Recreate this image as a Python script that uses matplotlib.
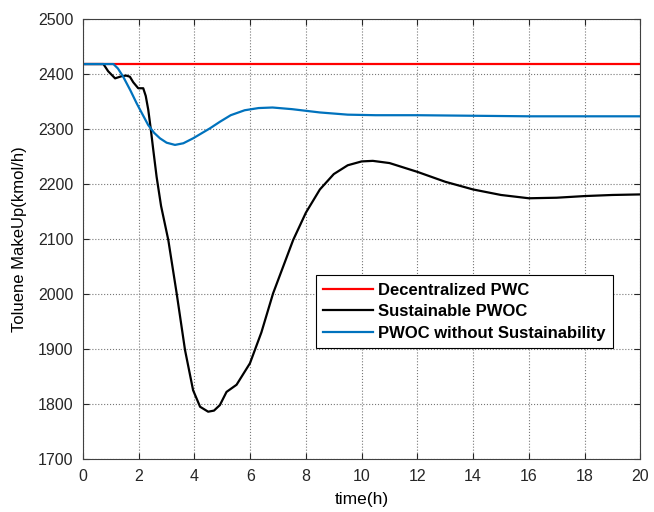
import matplotlib
matplotlib.use('Agg')
import matplotlib.pyplot as plt

plt.rcParams['font.family'] = ['Liberation Sans', 'DejaVu Sans']

# Decentralized PWC (flat)
t_dec = [0, 20]
y_dec = [2418, 2418]

# Sustainable PWOC
t_sus = [0, 0.73, 0.9, 1.15, 1.39, 1.55, 1.68, 1.8, 1.98, 2.16, 2.25, 2.34, 2.43, 2.52,
         2.64, 2.8, 3.06, 3.36, 3.66, 3.95, 4.2, 4.49, 4.7, 4.91, 5.15, 5.51, 5.99,
         6.4, 6.82, 7.54, 8.0, 8.5, 9.0, 9.5, 10.0, 10.4, 11.0, 12.0, 13.0, 14.0,
         15.0, 16.0, 17.0, 18.0, 19.0, 20.0]
y_sus = [2418, 2418, 2405, 2392, 2396, 2397, 2395, 2385, 2374, 2374, 2360, 2335, 2300, 2262,
         2213, 2160, 2098, 2001, 1898, 1825, 1795, 1786, 1788, 1798, 1822, 1835, 1874,
         1930, 2001, 2098, 2148, 2190, 2218, 2234, 2241, 2242, 2238, 2222, 2204, 2190,
         2180, 2174, 2175, 2178, 2180, 2181]

# PWOC without Sustainability
t_pwoc = [0, 1.09, 1.25, 1.44, 1.7, 1.92, 2.15, 2.34, 2.55, 2.76, 3.0, 3.3, 3.6, 3.95,
          4.25, 4.55, 4.91, 5.3, 5.8, 6.3, 6.8, 7.5, 8.5, 9.5, 10.5, 12.0, 14.0, 16.0, 20.0]
y_pwoc = [2418, 2418, 2410, 2395, 2370, 2347, 2325, 2307, 2293, 2283, 2275, 2271, 2274, 2283,
          2292, 2301, 2313, 2325, 2334, 2338, 2339, 2336, 2330, 2326, 2325, 2325, 2324, 2323, 2323]

fig = plt.figure(figsize=(6.54, 5.12), dpi=100)
ax = fig.add_axes([0.127, 0.1035, 0.852, 0.8595])

ax.plot(t_dec, y_dec, color='#ff0000', linewidth=1.6, label='Decentralized PWC')
ax.plot(t_sus, y_sus, color='#000000', linewidth=1.6, label='Sustainable PWOC')
ax.plot(t_pwoc, y_pwoc, color='#0072bd', linewidth=1.6, label='PWOC without Sustainability')

ax.set_xlim(0, 20)
ax.set_ylim(1700, 2500)
ax.set_xticks(range(0, 21, 2))
ax.set_yticks(range(1700, 2501, 100))
ax.tick_params(direction='in', labelsize=11.5, top=True, right=True, length=4, pad=7,
               colors='#262626')
for s in ax.spines.values():
    s.set_color('#404040')
ax.grid(True, linestyle=':', color='#777777', linewidth=0.8)
ax.set_xlabel('time(h)', fontsize=12.5, labelpad=6)
ax.set_ylabel('Toluene MakeUp(kmol/h)', fontsize=12, labelpad=8)

leg = ax.legend(loc='upper left', bbox_to_anchor=(0.418, 0.418), borderaxespad=0,
                fancybox=False, edgecolor='black', framealpha=1,
                prop={'weight': 'bold', 'size': 12},
                handlelength=3.0, handletextpad=0.3, borderpad=0.45, labelspacing=0.4)
leg.get_frame().set_linewidth(0.8)

fig.savefig('out.png', dpi=100)
